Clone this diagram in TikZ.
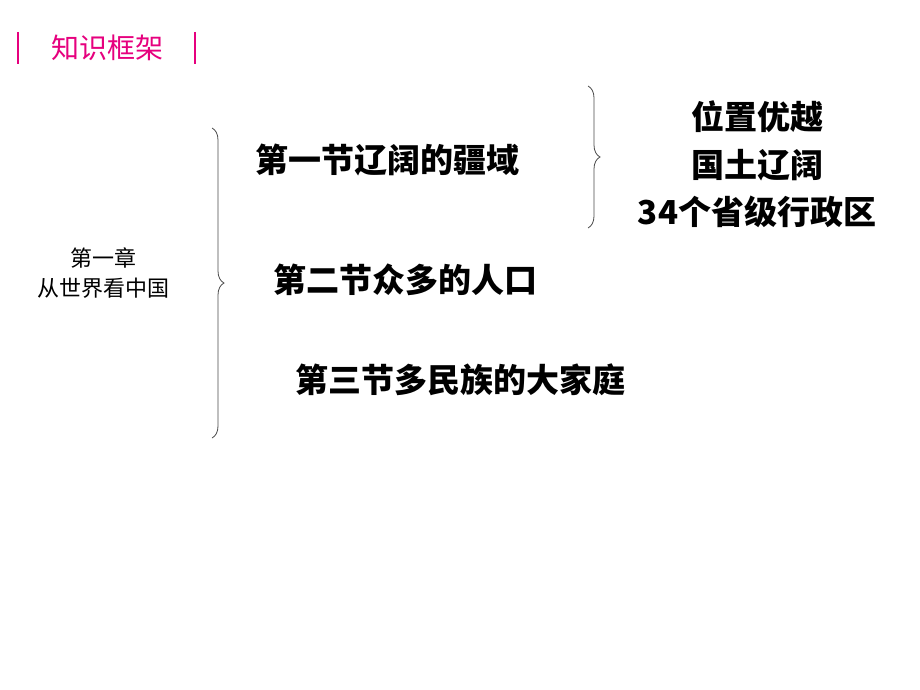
\documentclass[tikz,border=0pt]{standalone}
\usepackage{fontspec}
\setmainfont{Noto Sans CJK SC}
\usetikzlibrary{decorations.pathreplacing}
\definecolor{mag}{RGB}{230,0,126}
\begin{document}
\begin{tikzpicture}[x=1pt,y=-1pt,
  big/.style={font=\fontsize{33}{38}\selectfont\bfseries,inner sep=0},
  small/.style={font=\fontsize{22}{30}\selectfont,align=center,inner sep=0},
  br/.style={draw=black!70,line width=0.8pt,decorate,decoration={brace,amplitude=12pt,mirror}}]
\useasboundingbox (0,0) rectangle (920,690);
\fill[white] (0,0) rectangle (920,690);
\draw[mag,line width=1.5pt] (18,32)--(18,64) (195,32)--(195,64);
\node[text=mag,font=\fontsize{28}{30}\selectfont,inner sep=0] (t) at (107,48) {知识框架};
\node[small] (ch) at (103,273) {第一章\\从世界看中国};
\node[big] (s1) at (387,160) {第一节辽阔的疆域};
\node[big] (s2) at (405,280) {第二节众多的人口};
\node[big] (s3) at (460,380) {第三节多民族的大家庭};
\node[big] (r1) at (757,117) {位置优越};
\node[big] (r2) at (757,165) {国土辽阔};
\node[big] (r3) at (757,212) {34个省级行政区};
\coordinate (b1a) at (212,128); \coordinate (b1b) at (212,438);
\draw[br] (b1b) -- (b1a);
\coordinate (b2a) at (588,86); \coordinate (b2b) at (588,228);
\draw[br] (b2b) -- (b2a);
\end{tikzpicture}
\end{document}
